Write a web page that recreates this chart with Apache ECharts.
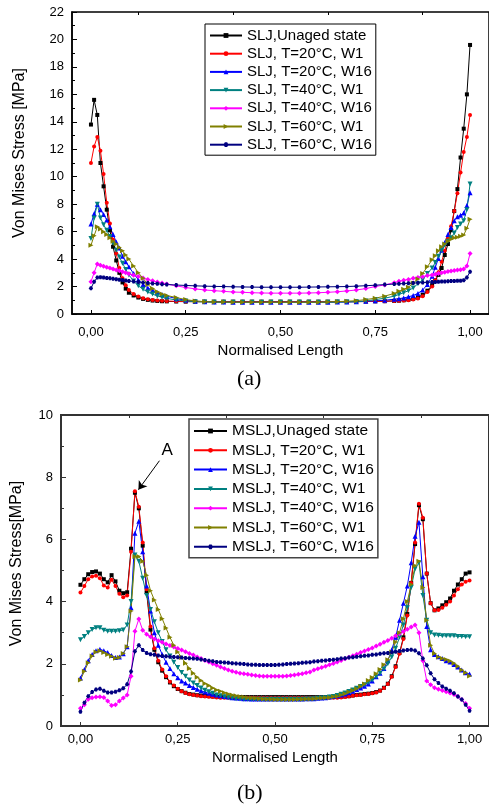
<!DOCTYPE html>
<html><head><meta charset="utf-8">
<script src="https://cdn.jsdelivr.net/npm/echarts@6/dist/echarts.min.js"></script>
<style>html,body{margin:0;padding:0;background:#fff}#c{width:489px;height:809px}</style>
</head><body><div id="c"></div>
<script>
// ---------- names / ticks ----------
const topNames = ['SLJ,Unaged state','SLJ, T=20°C, W1','SLJ, T=20°C, W16','SLJ, T=40°C, W1','SLJ, T=40°C, W16','SLJ, T=60°C, W1','SLJ, T=60°C, W16'];
const botNames = ['MSLJ,Unaged state','MSLJ, T=20°C, W1','MSLJ, T=20°C, W16','MSLJ, T=40°C, W1','MSLJ, T=40°C, W16','MSLJ, T=60°C, W1','MSLJ, T=60°C, W16'];
const xMajorTicks = [0, 0.25, 0.5, 0.75, 1];
const xMinorTicks = [0.125, 0.375, 0.625, 0.875];

// ---------- chart (a) ----------
const xTop = [0,0.0083,0.0167,0.025,0.0333,0.0417,0.05,0.0583,0.0667,0.075,0.0833,0.0917,0.1,
  0.1125,0.125,0.1375,0.15,0.1625,0.175,0.1875,0.2,
  0.225,0.25,0.275,0.3,0.325,0.35,0.375,0.4,0.425,0.45,0.475,0.5,0.525,0.55,0.575,0.6,0.625,0.65,0.675,0.7,0.725,0.75,
  0.775,0.8,0.8125,0.825,0.8375,0.85,0.8625,0.875,0.8875,0.9,
  0.9083,0.9167,0.925,0.9333,0.9417,0.95,0.9583,0.9667,0.975,0.9833,0.9917,1.0];
const topUnaged = [13.8,15.6,14.5,11.0,9.3,7.6,6.1,4.9,3.9,3.0,2.3,1.85,1.55,
  1.35,1.2,1.1,1.03,0.98,0.95,0.93,0.92,
  0.91,0.9,0.9,0.9,0.9,0.9,0.9,0.9,0.9,0.9,0.9,0.9,0.9,0.9,0.9,0.9,0.9,0.9,0.9,0.9,0.91,0.92,
  0.93,0.95,0.97,1.0,1.04,1.1,1.2,1.4,1.7,2.1,
  2.45,2.85,3.35,4.3,5.1,6.1,7.5,9.1,11.4,13.5,16.0,19.6];
const topT20W1 = [11.0,12.2,12.9,11.9,10.2,8.1,6.6,5.4,4.4,3.35,2.6,2.1,1.75,
  1.45,1.27,1.15,1.07,1.02,0.98,0.96,0.94,
  0.92,0.91,0.9,0.9,0.9,0.9,0.9,0.9,0.9,0.9,0.9,0.9,0.9,0.9,0.9,0.9,0.9,0.9,0.9,0.9,0.91,0.92,
  0.93,0.95,0.97,0.99,1.01,1.05,1.13,1.3,1.6,2.0,
  2.45,3.05,3.8,4.6,5.5,6.4,7.5,8.8,10.3,11.8,12.9,14.5];
const topT20W16 = [6.55,7.3,8.0,7.6,7.25,6.85,6.35,5.8,5.25,4.8,4.2,3.8,3.45,
  2.95,2.5,2.15,1.9,1.72,1.55,1.42,1.3,
  1.12,1.0,0.93,0.9,0.88,0.87,0.86,0.86,0.86,0.86,0.86,0.86,0.86,0.86,0.86,0.86,0.86,0.87,0.88,0.9,0.93,0.96,
  1.0,1.08,1.12,1.17,1.25,1.35,1.5,1.75,2.15,2.75,
  3.4,4.05,4.65,5.2,5.8,6.3,6.8,7.08,7.2,7.35,7.9,8.84];
const topT40W1 = [5.5,7.0,8.0,7.0,6.5,6.1,5.65,5.15,4.65,4.15,3.7,3.25,2.85,
  2.4,2.05,1.8,1.6,1.45,1.32,1.22,1.14,
  1.02,0.95,0.9,0.88,0.86,0.85,0.85,0.85,0.85,0.85,0.85,0.85,0.85,0.85,0.85,0.85,0.86,0.87,0.88,0.9,0.95,1.05,
  1.15,1.3,1.42,1.55,1.7,1.9,2.2,2.5,2.95,3.35,
  3.75,4.2,4.6,5.0,5.3,5.55,5.9,6.3,6.55,6.8,7.6,9.47];
const topT40W16 = [2.35,3.0,3.65,3.55,3.48,3.41,3.35,3.28,3.2,3.15,3.08,3.0,2.93,
  2.83,2.73,2.62,2.52,2.42,2.33,2.25,2.18,
  2.05,1.93,1.83,1.75,1.7,1.65,1.6,1.58,1.55,1.53,1.52,1.52,1.52,1.52,1.53,1.55,1.58,1.62,1.68,1.75,1.85,2.0,
  2.12,2.28,2.38,2.45,2.52,2.6,2.65,2.72,2.8,2.85,
  2.9,2.95,3.0,3.05,3.1,3.13,3.17,3.2,3.22,3.28,3.5,4.4];
const topT60W1 = [5.0,5.7,6.35,6.2,6.0,5.8,5.55,5.3,5.1,4.85,4.6,4.3,4.0,
  3.5,3.0,2.6,2.15,1.85,1.62,1.45,1.35,
  1.2,1.05,0.95,0.9,0.88,0.87,0.86,0.86,0.86,0.86,0.86,0.86,0.86,0.86,0.86,0.86,0.88,0.9,0.93,0.97,1.05,1.15,
  1.3,1.5,1.65,1.8,1.95,2.25,2.55,2.95,3.45,3.95,
  4.25,4.6,4.9,5.1,5.3,5.45,5.55,5.6,5.67,5.75,6.25,6.9];
const topT60W16 = [1.87,2.35,2.65,2.68,2.66,2.63,2.6,2.57,2.53,2.5,2.47,2.44,2.41,
  2.37,2.33,2.29,2.26,2.23,2.2,2.17,2.15,
  2.11,2.08,2.05,2.03,2.01,2.0,1.98,1.97,1.96,1.95,1.95,1.95,1.95,1.95,1.96,1.97,1.98,1.99,2.0,2.03,2.06,2.1,
  2.14,2.18,2.2,2.22,2.24,2.25,2.27,2.29,2.31,2.33,
  2.34,2.35,2.36,2.37,2.38,2.4,2.41,2.42,2.43,2.45,2.65,3.08];

// ---------- chart (b) ----------
const xBot = [0,0.01,0.02,0.03,0.04,0.05,0.06,0.07,0.08,0.09,
  0.1,0.11,0.12,0.13,0.14,0.15,0.16,0.17,0.18,0.19,
  0.2,0.21,0.22,0.23,0.24,0.25,0.26,0.27,0.28,0.29,
  0.3,0.31,0.32,0.33,0.34,0.35,0.36,0.37,0.38,0.39,
  0.4,0.41,0.42,0.43,0.44,0.45,0.46,0.47,0.48,0.49,
  0.5,0.51,0.52,0.53,0.54,0.55,0.56,0.57,0.58,0.59,
  0.6,0.61,0.62,0.63,0.64,0.65,0.66,0.67,0.68,0.69,
  0.7,0.71,0.72,0.73,0.74,0.75,0.76,0.77,0.78,0.79,
  0.8,0.81,0.82,0.83,0.84,0.85,0.86,0.87,0.88,0.89,
  0.9,0.91,0.92,0.93,0.94,0.95,0.96,0.97,0.98,0.99,1.0];
const botUnaged = [4.54,4.72,4.88,4.95,4.97,4.9,4.72,4.62,4.85,4.65,
  4.35,4.27,4.3,5.7,7.5,7.0,5.8,4.3,3.1,2.45,
  2.05,1.78,1.57,1.4,1.28,1.19,1.12,1.07,1.03,1.01,
  0.99,0.98,0.97,0.96,0.95,0.94,0.93,0.93,0.93,0.93,
  0.93,0.93,0.93,0.93,0.93,0.93,0.93,0.93,0.93,0.93,
  0.93,0.93,0.93,0.93,0.93,0.93,0.93,0.93,0.93,0.93,
  0.93,0.93,0.93,0.93,0.93,0.93,0.93,0.94,0.95,0.96,
  0.98,1.0,1.01,1.03,1.04,1.06,1.09,1.14,1.23,1.36,
  1.6,1.92,2.35,2.85,3.6,4.6,5.85,7.1,6.65,4.9,
  3.95,3.72,3.78,3.88,3.98,4.1,4.35,4.55,4.72,4.9,4.94];
const botT20W1 = [4.29,4.5,4.72,4.81,4.83,4.75,4.52,4.45,4.7,4.5,
  4.25,4.14,4.2,5.6,7.55,7.05,5.9,4.4,3.2,2.5,
  2.1,1.82,1.6,1.42,1.3,1.2,1.12,1.06,1.02,1.0,
  0.98,0.96,0.95,0.94,0.93,0.92,0.91,0.91,0.91,0.91,
  0.91,0.91,0.91,0.91,0.91,0.91,0.91,0.91,0.91,0.91,
  0.91,0.91,0.91,0.91,0.91,0.91,0.91,0.91,0.91,0.91,
  0.91,0.91,0.91,0.91,0.91,0.91,0.91,0.92,0.93,0.95,
  0.97,0.99,1.0,1.02,1.03,1.05,1.08,1.13,1.22,1.35,
  1.58,1.9,2.32,2.8,3.55,4.6,5.9,7.15,6.7,4.9,
  3.95,3.72,3.73,3.8,3.9,4.0,4.2,4.4,4.55,4.64,4.68];
const botT20W16 = [1.54,1.82,2.1,2.3,2.42,2.47,2.42,2.36,2.27,2.2,
  2.22,2.32,2.55,3.8,6.2,6.58,5.6,4.5,3.7,3.0,
  2.6,2.3,2.05,1.85,1.68,1.55,1.45,1.38,1.3,1.24,
  1.18,1.13,1.09,1.05,1.02,1.0,0.97,0.95,0.93,0.91,
  0.9,0.89,0.88,0.88,0.87,0.87,0.87,0.87,0.87,0.87,
  0.87,0.87,0.87,0.87,0.87,0.87,0.87,0.87,0.88,0.88,
  0.88,0.89,0.9,0.91,0.93,0.95,0.97,1.0,1.03,1.07,
  1.12,1.17,1.22,1.28,1.35,1.45,1.58,1.7,1.85,2.1,
  2.45,2.85,3.4,3.95,4.5,5.25,6.1,6.55,4.8,3.2,
  2.45,2.3,2.23,2.17,2.1,2.06,1.98,1.9,1.8,1.71,1.67];
const botT40W1 = [2.77,2.88,3.0,3.1,3.16,3.16,3.08,3.05,3.05,3.05,
  3.06,3.09,3.25,4.0,5.5,5.3,4.75,4.2,3.75,3.35,
  3.0,2.72,2.45,2.25,2.05,1.88,1.72,1.6,1.48,1.38,
  1.3,1.22,1.15,1.1,1.05,1.0,0.97,0.94,0.92,0.9,
  0.88,0.87,0.86,0.86,0.86,0.86,0.86,0.86,0.86,0.86,
  0.86,0.86,0.86,0.86,0.86,0.86,0.86,0.86,0.87,0.87,
  0.88,0.89,0.9,0.91,0.93,0.95,0.98,1.02,1.06,1.11,
  1.16,1.21,1.27,1.33,1.4,1.48,1.58,1.7,1.83,2.0,
  2.22,2.5,2.85,3.25,3.8,4.45,5.05,5.25,4.2,3.4,
  3.0,2.93,2.92,2.9,2.9,2.9,2.9,2.88,2.88,2.87,2.87];
const botT40W16 = [0.57,0.68,0.86,0.91,0.93,0.94,0.92,0.8,0.66,0.68,
  0.8,0.9,1.0,1.6,3.05,3.44,3.08,2.95,2.87,2.8,
  2.74,2.69,2.64,2.59,2.54,2.49,2.44,2.39,2.33,2.28,
  2.22,2.17,2.11,2.06,2.0,1.95,1.9,1.85,1.8,1.76,
  1.73,1.7,1.68,1.66,1.64,1.62,1.61,1.6,1.6,1.6,
  1.6,1.6,1.6,1.61,1.62,1.64,1.66,1.68,1.71,1.74,
  1.8,1.84,1.88,1.92,1.97,2.01,2.06,2.11,2.16,2.21,
  2.26,2.31,2.36,2.41,2.46,2.51,2.57,2.63,2.69,2.75,
  2.82,2.9,2.97,3.04,3.11,3.18,3.25,3.0,2.1,1.45,
  1.33,1.23,1.18,1.14,1.1,1.06,1.01,0.95,0.85,0.72,0.57];
const botT60W1 = [1.48,1.76,2.03,2.25,2.38,2.42,2.36,2.3,2.24,2.18,
  2.2,2.33,2.55,3.7,5.45,5.45,5.3,4.85,4.35,4.05,
  3.75,3.45,3.15,2.85,2.6,2.38,2.2,2.02,1.85,1.7,
  1.57,1.46,1.37,1.3,1.22,1.16,1.12,1.07,1.03,1.0,
  0.97,0.95,0.93,0.91,0.9,0.89,0.88,0.87,0.86,0.86,
  0.85,0.85,0.85,0.85,0.85,0.85,0.86,0.86,0.87,0.87,
  0.88,0.89,0.9,0.91,0.92,0.94,0.96,1.0,1.04,1.09,
  1.14,1.2,1.27,1.35,1.46,1.56,1.68,1.82,1.97,2.13,
  2.38,2.7,3.0,3.45,4.0,4.55,5.15,5.3,4.45,3.4,
  2.6,2.33,2.22,2.17,2.14,2.09,2.02,1.92,1.8,1.71,1.61];
const botT60W16 = [0.46,0.75,0.96,1.09,1.17,1.2,1.13,1.08,1.08,1.1,
  1.15,1.21,1.34,1.75,2.4,2.6,2.44,2.35,2.31,2.29,
  2.27,2.25,2.24,2.23,2.22,2.21,2.2,2.19,2.18,2.17,
  2.16,2.14,2.12,2.1,2.08,2.06,2.05,2.04,2.03,2.02,
  2.01,2.0,1.99,1.98,1.97,1.97,1.96,1.96,1.96,1.96,
  1.96,1.97,1.98,1.99,2.0,2.01,2.02,2.03,2.04,2.05,
  2.07,2.08,2.1,2.11,2.12,2.13,2.15,2.17,2.18,2.2,
  2.21,2.23,2.24,2.26,2.27,2.29,2.3,2.32,2.34,2.35,
  2.37,2.39,2.41,2.43,2.44,2.45,2.43,2.34,2.17,1.95,
  1.7,1.5,1.38,1.27,1.2,1.13,1.05,0.95,0.85,0.68,0.49];

// annotation "A" (data coordinates of label and arrow)
const annotLabel = [0.223, 8.86];
const annotArrow = [[0.203, 8.53], [0.149, 7.6]];

// ---------- styling ----------
const colors = ['#000000','#ff0000','#0000ff','#008080','#ff00ff','#808000','#000080'];
const hexagon = 'path://M2,0L1,1.732L-1,1.732L-2,0L-1,-1.732L1,-1.732Z';
const symbols = ['rect','circle','triangle','triangle','diamond','triangle',hexagon];
const rotates = [0,0,0,180,0,-90,0];
const sizes = [4,4,5,5,5,5,4];
const FONT = "'Liberation Sans', Arial, sans-serif";

const topSets = [topUnaged, topT20W1, topT20W16, topT40W1, topT40W16, topT60W1, topT60W16];
const botSets = [botUnaged, botT20W1, botT20W16, botT40W1, botT40W16, botT60W1, botT60W16];
const pairs = (xs, ys) => xs.map((x, i) => [x, ys[i]]);
const fmt = v => v.toFixed(2).replace('.', ',');

function mkSeries(names, xs, sets, xi, yi) {
  return names.map((n, i) => ({
    type: 'line', name: n, xAxisIndex: xi, yAxisIndex: yi,
    data: pairs(xs, sets[i]),
    symbol: symbols[i], symbolSize: sizes[i], symbolRotate: rotates[i],
    showAllSymbol: true,
    lineStyle: { width: 1, color: colors[i] },
    itemStyle: { color: colors[i] },
    emphasis: { disabled: true }
  }));
}

function xAxes(grid, lineColor, lineWidth, labelMargin, nameGap) {
  return [
    { gridIndex: grid, type: 'value', min: -0.05, max: 1.05,
      axisLine: { show: true, onZero: false, lineStyle: { color: lineColor, width: lineWidth } },
      axisTick: { show: true, inside: true, length: 4, customValues: xMajorTicks, lineStyle: { color: lineColor, width: 1 } },
      axisLabel: { show: true, customValues: xMajorTicks, formatter: fmt, fontSize: 13, color: '#000', margin: labelMargin, fontFamily: FONT },
      splitLine: { show: false },
      name: 'Normalised Length', nameLocation: 'middle', nameGap: nameGap,
      nameTextStyle: { fontSize: 15, color: '#000', fontFamily: FONT } },
    { gridIndex: grid, type: 'value', min: -0.05, max: 1.05,
      axisLine: { show: false, onZero: false },
      axisTick: { show: true, inside: true, length: 3, customValues: xMinorTicks, lineStyle: { color: lineColor, width: 1 } },
      axisLabel: { show: false, customValues: xMinorTicks },
      splitLine: { show: false } }
  ];
}

function yAxis(grid, max, lineColor, lineWidth, name, nameGap, pad) {
  return { gridIndex: grid, type: 'value', min: 0, max: max, interval: 2,
    axisLine: { show: true, onZero: false, lineStyle: { color: lineColor, width: lineWidth } },
    axisTick: { show: true, inside: true, length: 5, lineStyle: { color: lineColor, width: 1 } },
    minorTick: { show: true, splitNumber: 2, length: 3, lineStyle: { color: lineColor, width: 1 } },
    axisLabel: { fontSize: 13, color: '#000', margin: 8, fontFamily: FONT },
    splitLine: { show: false }, minorSplitLine: { show: false },
    name: name, nameLocation: 'middle', nameGap: nameGap,
    nameTextStyle: { fontSize: 16, color: '#000', fontFamily: FONT, padding: [0, 0, 0, pad] } };
}

const series = mkSeries(topNames, xTop, topSets, 0, 0).concat(mkSeries(botNames, xBot, botSets, 2, 1));
const redBot = series[8];
redBot.markLine = { silent: true, symbol: ['none', 'arrow'], symbolSize: 8, animation: false,
  lineStyle: { color: '#000', width: 1, type: 'solid' }, label: { show: false },
  data: [[{ coord: annotArrow[0] }, { coord: annotArrow[1] }]] };
redBot.markPoint = { silent: true, animation: false, symbol: 'circle', symbolSize: 1,
  itemStyle: { color: 'rgba(0,0,0,0)' },
  label: { show: true, formatter: 'A', fontSize: 17, color: '#000', fontFamily: FONT, position: 'inside' },
  data: [{ coord: annotLabel }] };

const legendBase = {
  orient: 'vertical', itemHeight: 6, backgroundColor: '#fff',
  selectedMode: false
};

const option = {
  animation: false,
  backgroundColor: '#fff',
  textStyle: { fontFamily: FONT },
  title: [
    { text: '(a)', left: 232, top: 363, textStyle: { fontFamily: "'Liberation Serif', 'Times New Roman', serif", fontSize: 22, fontWeight: 'normal', color: '#000' } },
    { text: '(b)', left: 232, top: 777, textStyle: { fontFamily: "'Liberation Serif', 'Times New Roman', serif", fontSize: 22, fontWeight: 'normal', color: '#000' } }
  ],
  grid: [
    { left: 72, top: 12, width: 422, height: 302, show: true, borderColor: '#000', borderWidth: 1.5, backgroundColor: 'transparent' },
    { left: 61, top: 415, width: 434, height: 311, show: true, borderColor: '#333', borderWidth: 2, backgroundColor: 'transparent' }
  ],
  legend: [
    Object.assign({}, legendBase, { data: topNames, left: 205, top: 24, itemWidth: 32, itemGap: 3.2,
      textStyle: { fontSize: 15, color: '#000', fontFamily: FONT, lineHeight: 15 },
      padding: [4, 4, 3, 4], borderColor: '#000', borderWidth: 1 }),
    Object.assign({}, legendBase, { data: botNames, left: 189, top: 419, itemWidth: 33, itemGap: 3.3,
      textStyle: { fontSize: 15.5, color: '#000', fontFamily: FONT, lineHeight: 15.5 },
      padding: [4, 4, 3, 4], borderColor: '#444', borderWidth: 1.5 })
  ],
  xAxis: xAxes(0, '#000', 1.5, 12, 29).concat(xAxes(1, '#333', 2, 7, 24)),
  yAxis: [
    yAxis(0, 22, '#000', 1.5, 'Von Mises Stress [MPa]', 44, 20),
    yAxis(1, 10, '#333', 2, 'Von Mises Stress[MPa]', 36, 14)
  ],
  series: series
};

const chart = echarts.init(document.getElementById('c'), null, { renderer: 'canvas' });
chart.setOption(option);
</script>
</body></html>
